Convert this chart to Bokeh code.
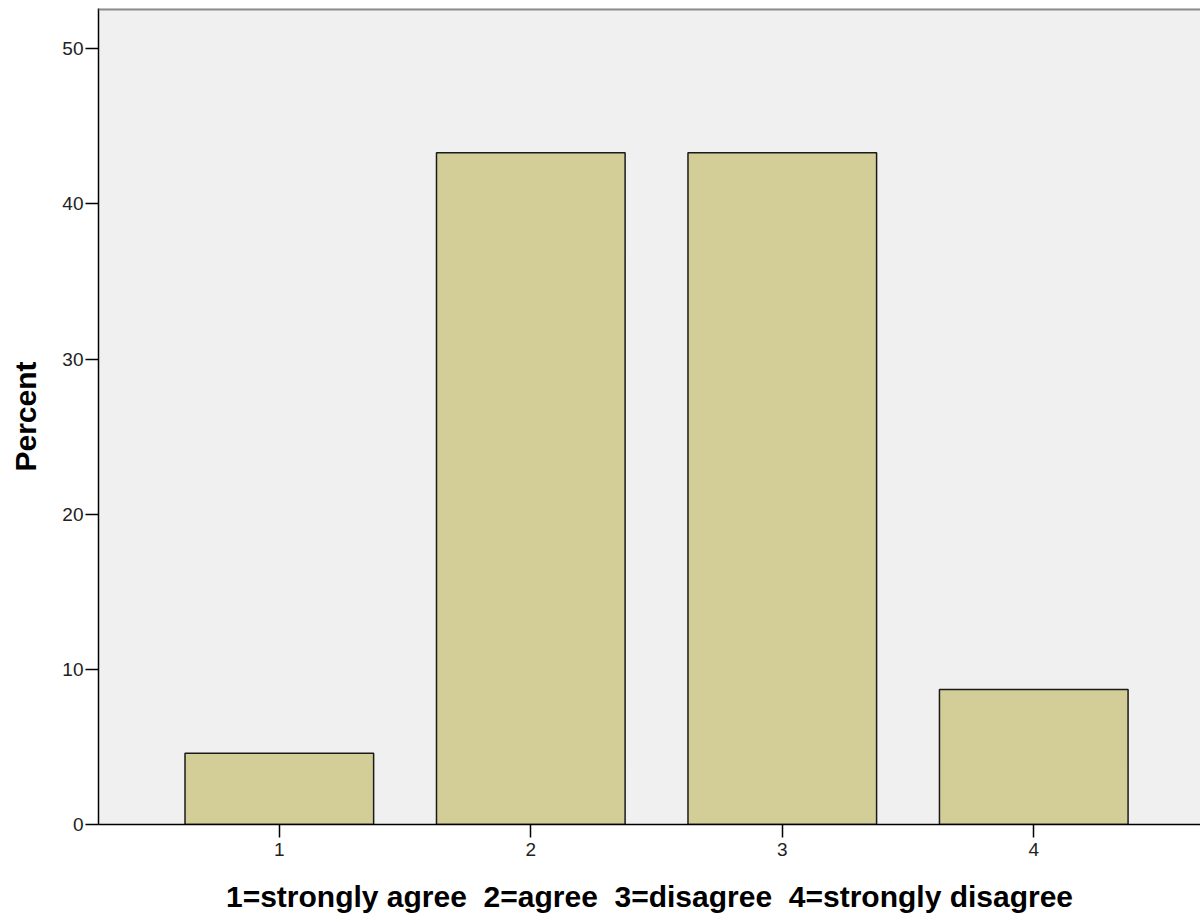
from bokeh.plotting import figure
from bokeh.models import Range1d, FixedTicker, ColumnDataSource, Span
from bokeh.embed import file_html
from bokeh.resources import INLINE

categories = [1, 2, 3, 4]
percents = [4.6, 43.3, 43.3, 8.7]
y_ticks = [0, 10, 20, 30, 40, 50]
x_label = "1=strongly agree \u00a02=agree \u00a03=disagree \u00a04=strongly disagree"
y_label = "Percent"
y_max = 52.6

source = ColumnDataSource(data=dict(x=categories, top=percents))

p = figure(width=1200, height=917, output_backend="svg", toolbar_location=None,
           x_range=Range1d(0.281, 4.663), y_range=Range1d(0, y_max),
           min_border_left=98, min_border_right=0, min_border_top=8, min_border_bottom=93)

p.vbar(x="x", top="top", width=0.75, source=source,
       fill_color="#d3ce98", line_color="#1a1a1a", line_width=1.5)

p.background_fill_color = "#f0f0f0"
p.border_fill_color = "white"
p.outline_line_color = None
p.add_layout(Span(location=y_max, dimension="width", line_color="#8c8c8c", line_width=4))
p.xgrid.visible = False
p.ygrid.visible = False

for ax in (p.xaxis[0], p.yaxis[0]):
    ax.axis_line_color = "black"
    ax.axis_line_width = 1.5
    ax.major_tick_line_color = "black"
    ax.major_tick_line_width = 1.5
    ax.major_tick_out = 13
    ax.major_tick_in = 0
    ax.minor_tick_out = 0
    ax.minor_tick_in = 0
    ax.major_label_text_font = "Liberation Sans"
    ax.major_label_text_font_size = "19px"
    ax.major_label_text_color = "#222222"
    ax.axis_label_text_font = "Liberation Sans"
    ax.axis_label_text_font_style = "bold"
    ax.axis_label_text_font_size = "30px"
    ax.axis_label_text_color = "black"

p.xaxis.ticker = FixedTicker(ticks=categories)
p.yaxis.ticker = FixedTicker(ticks=y_ticks)
p.xaxis.axis_label = x_label
p.yaxis.axis_label = y_label
p.xaxis.major_label_standoff = 5
p.yaxis.major_label_standoff = 2
p.xaxis.axis_label_standoff = 21
p.yaxis.axis_label_standoff = 17

open("out.html", "w").write(file_html(p, INLINE))
